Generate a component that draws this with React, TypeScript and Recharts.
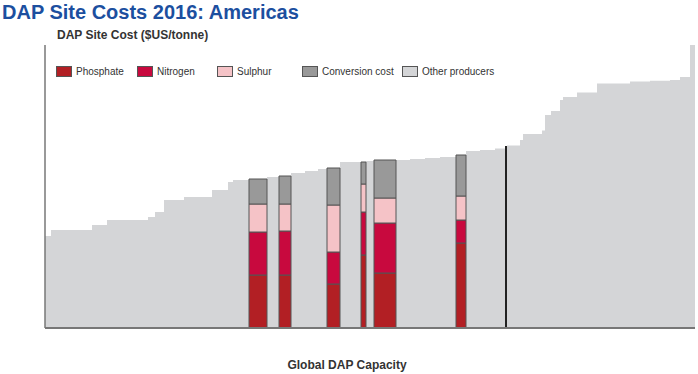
import {
  ComposedChart, Area, XAxis, YAxis, ReferenceArea, ReferenceLine,
} from 'recharts';

// cumulative capacity at the start of each step, and its site cost
const curveCapacity = [
  0, 6, 47, 62, 103, 110, 119, 139, 167, 183, 188, 204, 222, 234, 246, 260, 273,
  282, 295, 316, 321, 329, 351, 365, 380, 395, 411, 421, 435, 450, 462, 475, 478,
  497, 500, 506, 515, 518, 532, 552, 585, 605, 625, 635, 645, 650,
];
const curveCost = [
  92, 98, 103, 108, 111, 116, 128, 131, 138, 146, 148, 149, 151, 152, 155, 157, 159,
  160, 166, 166, 167, 168, 168, 169, 170, 171, 173, 177, 178, 179.5, 182.5, 188, 194,
  197.5, 213, 217, 228, 231, 235.5, 244.5, 246.5, 247.3, 248, 251, 283, 283,
];

// Americas sites
const siteStart = [204, 234, 282, 316, 329, 411];
const siteEnd = [222, 246, 295, 321, 351, 421];
const phosphate = [53, 53, 44, 73, 55, 85];
const nitrogen = [43, 44, 32, 43, 50, 23];
const sulphur = [28, 27, 47, 28, 25, 24];
const conversion = [25, 28, 37, 22, 38, 41];

const markerCapacity = 461;
const markerCost = 182;

const components = [
  { key: 'phosphate', label: 'Phosphate', color: '#b21f24', values: phosphate },
  { key: 'nitrogen', label: 'Nitrogen', color: '#c8093e', values: nitrogen },
  { key: 'sulphur', label: 'Sulphur', color: '#f5c3c7', values: sulphur },
  { key: 'conversion', label: 'Conversion cost', color: '#999999', values: conversion },
];
const otherColor = '#d4d5d7';

const legendX = [56, 137, 217, 302, 402];

const FONT = '"Liberation Sans", Arial, sans-serif';

function LegendRow() {
  const items = [
    ...components.map((c) => ({ label: c.label, color: c.color })),
    { label: 'Other producers', color: otherColor },
  ];
  return (
    <div style={{ position: 'absolute', top: 66, left: 0, width: 698, height: 14 }}>
      {items.map((it, i) => (
        <div
          key={it.label}
          style={{ position: 'absolute', left: legendX[i], top: 0, display: 'flex', alignItems: 'center' }}
        >
          <span
            style={{
              width: 14, height: 9, background: it.color, border: '1px solid #555',
              display: 'inline-block', marginRight: 4,
            }}
          />
          <span style={{ fontSize: 10, color: '#333', fontFamily: FONT }}>{it.label}</span>
        </div>
      ))}
    </div>
  );
}

export default function App() {
  const data = curveCapacity.map((x, i) => ({ x, cost: curveCost[i] }));

  const blocks = siteStart.flatMap((x1, s) => {
    let base = 0;
    return components.map((c) => {
      const y1 = base;
      base += c.values[s];
      return { key: `${s}-${c.key}`, x1, x2: siteEnd[s], y1, y2: base, color: c.color };
    });
  });

  return (
    <div style={{ position: 'absolute', left: 0, top: 0, width: 698, height: 374, background: '#fff', fontFamily: FONT }}>
      <div style={{ position: 'absolute', left: 2, top: 1, fontSize: 20, fontWeight: 'bold', color: '#1c4f9f' }}>
        DAP Site Costs 2016: Americas
      </div>
      <div style={{ position: 'absolute', left: 57, top: 28, fontSize: 12, fontWeight: 'bold', color: '#333' }}>
        DAP Site Cost ($US/tonne)
      </div>
      <ComposedChart width={698} height={374} data={data} margin={{ top: 45, right: 3, bottom: 46, left: 45 }}>
        <XAxis type="number" dataKey="x" domain={[0, 650]} allowDataOverflow hide />
        <YAxis type="number" domain={[0, 283]} allowDataOverflow hide />
        <Area
          type="stepAfter"
          dataKey="cost"
          fill={otherColor}
          fillOpacity={1}
          stroke="none"
          isAnimationActive={false}
        />
        {blocks.map((b) => (
          <ReferenceArea
            key={b.key}
            x1={b.x1}
            x2={b.x2}
            y1={b.y1}
            y2={b.y2}
            fill={b.color}
            fillOpacity={1}
            stroke="#555"
            strokeWidth={1}
            ifOverflow="visible"
          />
        ))}
        <ReferenceLine
          segment={[{ x: markerCapacity, y: 0 }, { x: markerCapacity, y: markerCost }]}
          stroke="#222"
          strokeWidth={2}
        />
        <ReferenceLine x={0} stroke="#777" strokeWidth={1.5} />
        <ReferenceLine y={0} stroke="#777" strokeWidth={2} />
      </ComposedChart>
      <LegendRow />
      <div style={{ position: 'absolute', left: 0, width: 694, top: 358, textAlign: 'center', fontSize: 12, fontWeight: 'bold', color: '#333' }}>
        Global DAP Capacity
      </div>
    </div>
  );
}
